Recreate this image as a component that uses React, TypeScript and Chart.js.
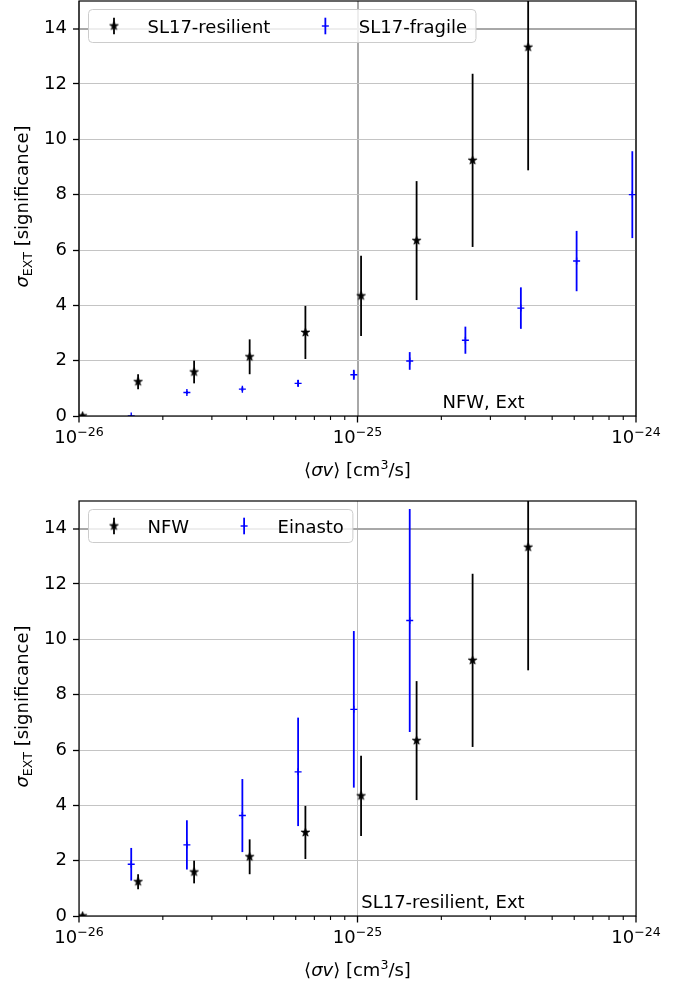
import React, { useEffect, useRef } from 'react';
import { Chart, registerables } from 'chart.js';

Chart.register(...registerables);

// ---------------- data ----------------
const resilientX = [1.03e-26, 1.63e-26, 2.59e-26, 4.1e-26, 6.5e-26, 1.03e-25, 1.63e-25, 2.59e-25, 4.1e-25];
const resilientY = [0, 1.24, 1.59, 2.14, 3.02, 4.34, 6.34, 9.24, 13.33];
const resilientErr = [0, 0.27, 0.41, 0.63, 0.96, 1.45, 2.15, 3.13, 4.45];

const fragileX = [1.54e-26, 2.44e-26, 3.86e-26, 6.12e-26, 9.7e-26, 1.54e-25, 2.44e-25, 3.86e-25, 6.12e-25, 9.7e-25];
const fragileY = [0, 0.85, 0.97, 1.18, 1.49, 1.99, 2.74, 3.9, 5.6, 8.0];
const fragileErr = [0.03, 0.06, 0.07, 0.12, 0.18, 0.32, 0.49, 0.75, 1.09, 1.57];

const nfwX = [1.03e-26, 1.63e-26, 2.59e-26, 4.1e-26, 6.5e-26, 1.03e-25, 1.63e-25, 2.59e-25, 4.1e-25];
const nfwY = [0, 1.24, 1.59, 2.14, 3.02, 4.34, 6.34, 9.24, 13.33];
const nfwErr = [0, 0.27, 0.41, 0.63, 0.96, 1.45, 2.15, 3.13, 4.45];

const einastoX = [1.54e-26, 2.44e-26, 3.86e-26, 6.12e-26, 9.7e-26, 1.54e-25];
const einastoY = [1.87, 2.57, 3.63, 5.21, 7.47, 10.68];
const einastoErr = [0.59, 0.89, 1.32, 1.96, 2.83, 4.03];

const yTicks = [0, 2, 4, 6, 8, 10, 12, 14];
const xMajorTicks = [1e-26, 1e-25, 1e-24];
const xTickExponents = ['\u221226', '\u221225', '\u221224'];
const xMinorTicks = [
  2e-26, 3e-26, 4e-26, 5e-26, 6e-26, 7e-26, 8e-26, 9e-26,
  2e-25, 3e-25, 4e-25, 5e-25, 6e-25, 7e-25, 8e-25, 9e-25,
];

const FONT = '"DejaVu Sans", sans-serif';
const F_N = `18px ${FONT}`;
const F_I = `italic 18px ${FONT}`;
const F_S = `12.6px ${FONT}`;

type Series = { label: string; x: number[]; y: number[]; err: number[]; color: string; marker: 'star' | 'plus' };
type PanelCfg = { series: Series[]; note: string; vColor: string; vWidth: number };

const panels: PanelCfg[] = [
  {
    series: [
      { label: 'SL17-resilient', x: resilientX, y: resilientY, err: resilientErr, color: '#000000', marker: 'star' },
      { label: 'SL17-fragile', x: fragileX, y: fragileY, err: fragileErr, color: '#0000ff', marker: 'plus' },
    ],
    note: 'NFW, Ext',
    vColor: '#a8a8a8',
    vWidth: 2,
  },
  {
    series: [
      { label: 'NFW', x: nfwX, y: nfwY, err: nfwErr, color: '#000000', marker: 'star' },
      { label: 'Einasto', x: einastoX, y: einastoY, err: einastoErr, color: '#0000ff', marker: 'plus' },
    ],
    note: 'SL17-resilient, Ext',
    vColor: '#c0c0c0',
    vWidth: 1,
  },
];

function makeStar(color: string, R: number) {
  const c = document.createElement('canvas');
  const s = Math.ceil(2 * R + 2);
  c.width = s;
  c.height = s;
  const g = c.getContext('2d')!;
  g.translate(s / 2, s / 2);
  g.beginPath();
  for (let i = 0; i < 10; i++) {
    const r = i % 2 === 0 ? R : R * 0.382;
    const a = -Math.PI / 2 + (i * Math.PI) / 5;
    if (i === 0) g.moveTo(r * Math.cos(a), r * Math.sin(a));
    else g.lineTo(r * Math.cos(a), r * Math.sin(a));
  }
  g.closePath();
  g.fillStyle = color;
  g.fill();
  g.strokeStyle = color;
  g.lineWidth = 0.8;
  g.stroke();
  return c;
}

type Run = { text: string; font: string; dy?: number };
function drawRuns(ctx: CanvasRenderingContext2D, runs: Run[], x: number, y: number, align: 'left' | 'center' | 'right') {
  let total = 0;
  const widths = runs.map((r) => {
    ctx.font = r.font;
    const w = ctx.measureText(r.text).width;
    total += w;
    return w;
  });
  let cx = align === 'center' ? x - total / 2 : align === 'right' ? x - total : x;
  ctx.textAlign = 'left';
  ctx.textBaseline = 'alphabetic';
  runs.forEach((r, i) => {
    ctx.font = r.font;
    ctx.fillText(r.text, cx, y + (r.dy || 0));
    cx += widths[i];
  });
}

function Panel({ cfg, top }: { cfg: PanelCfg; top: number }) {
  const ref = useRef<HTMLCanvasElement | null>(null);

  useEffect(() => {
    if (!ref.current) return;
    const star = makeStar('#000000', 4.5);

    const errorBars = {
      id: 'errorBars',
      beforeDatasetsDraw(chart: any) {
        const { ctx, chartArea: a } = chart;
        const xs = chart.scales.x;
        const ys = chart.scales.y;
        ctx.save();
        ctx.beginPath();
        ctx.rect(a.left, a.top, a.right - a.left, a.bottom - a.top);
        ctx.clip();
        cfg.series.forEach((s) => {
          ctx.strokeStyle = s.color;
          ctx.lineWidth = 1.8;
          s.x.forEach((xv, i) => {
            if (!s.err[i]) return;
            const px = xs.getPixelForValue(xv);
            const y1 = ys.getPixelForValue(s.y[i] - s.err[i]);
            const y2 = ys.getPixelForValue(s.y[i] + s.err[i]);
            ctx.beginPath();
            ctx.moveTo(px, y1);
            ctx.lineTo(px, y2);
            ctx.stroke();
          });
        });
        ctx.restore();
      },
    };

    const decor = {
      id: 'decor',
      afterDraw(chart: any) {
        const { ctx, chartArea: a } = chart;
        const xs = chart.scales.x;
        ctx.save();
        ctx.fillStyle = '#000';
        ctx.strokeStyle = '#000';

        // x tick marks
        ctx.lineWidth = 1.3;
        xMajorTicks.forEach((v) => {
          const px = xs.getPixelForValue(v);
          ctx.beginPath();
          ctx.moveTo(px, a.bottom);
          ctx.lineTo(px, a.bottom + 6.5);
          ctx.stroke();
        });
        ctx.lineWidth = 1.1;
        xMinorTicks.forEach((v) => {
          const px = xs.getPixelForValue(v);
          ctx.beginPath();
          ctx.moveTo(px, a.bottom);
          ctx.lineTo(px, a.bottom + 4);
          ctx.stroke();
        });

        // spines
        ctx.lineWidth = 1.2;
        ctx.strokeRect(a.left, a.top, a.right - a.left, a.bottom - a.top);

        // x tick labels
        xMajorTicks.forEach((v, i) => {
          const px = xs.getPixelForValue(v);
          drawRuns(ctx, [
            { text: '10', font: F_N },
            { text: xTickExponents[i], font: F_S, dy: -7 },
          ], px, a.bottom + 27, 'center');
        });

        // x title
        drawRuns(ctx, [
          { text: '\u27E8', font: F_N },
          { text: '\u03C3v', font: F_I },
          { text: '\u27E9 [cm', font: F_N },
          { text: '3', font: F_S, dy: -7 },
          { text: '/s]', font: F_N },
        ], (a.left + a.right) / 2, a.bottom + 60, 'center');

        // annotation
        drawRuns(ctx, [{ text: cfg.note, font: F_N }], a.left + 0.8 * (a.right - a.left), a.bottom - 8, 'right');

        // legend
        const boxL = a.left + 9.5;
        const boxT = a.top + 8.5;
        const boxH = 33;
        const cy = boxT + 16.5;
        ctx.font = F_N;
        let hx = boxL + 25.5;
        const items: { hx: number; tx: number; s: Series }[] = [];
        let endX = hx;
        cfg.series.forEach((s) => {
          const tx = hx + 33.5;
          const tw = ctx.measureText(s.label).width;
          items.push({ hx, tx, s });
          endX = tx + tw;
          hx = tx + tw + 55;
        });
        const boxR = endX + 9;
        const r = 4;
        ctx.beginPath();
        ctx.moveTo(boxL + r, boxT);
        ctx.lineTo(boxR - r, boxT);
        ctx.arcTo(boxR, boxT, boxR, boxT + r, r);
        ctx.lineTo(boxR, boxT + boxH - r);
        ctx.arcTo(boxR, boxT + boxH, boxR - r, boxT + boxH, r);
        ctx.lineTo(boxL + r, boxT + boxH);
        ctx.arcTo(boxL, boxT + boxH, boxL, boxT + boxH - r, r);
        ctx.lineTo(boxL, boxT + r);
        ctx.arcTo(boxL, boxT, boxL + r, boxT, r);
        ctx.closePath();
        ctx.fillStyle = 'rgba(255,255,255,0.8)';
        ctx.fill();
        ctx.strokeStyle = '#cccccc';
        ctx.lineWidth = 1;
        ctx.stroke();

        items.forEach(({ hx: gx, tx, s }) => {
          ctx.strokeStyle = s.color;
          ctx.lineWidth = 1.8;
          ctx.beginPath();
          ctx.moveTo(gx, cy - 8.3);
          ctx.lineTo(gx, cy + 8.3);
          ctx.stroke();
          if (s.marker === 'star') {
            ctx.drawImage(star, gx - star.width / 2, cy - star.height / 2);
          } else {
            ctx.lineWidth = 1.4;
            ctx.beginPath();
            ctx.moveTo(gx - 3.5, cy);
            ctx.lineTo(gx + 3.5, cy);
            ctx.stroke();
          }
          ctx.fillStyle = '#000';
          drawRuns(ctx, [{ text: s.label, font: F_N }], tx, cy + 6.5, 'left');
        });

        // y title
        ctx.fillStyle = '#000';
        ctx.translate(28, (a.top + a.bottom) / 2 - 2);
        ctx.rotate(-Math.PI / 2);
        drawRuns(ctx, [
          { text: '\u03C3', font: F_I },
          { text: 'EXT', font: F_S, dy: 3.5 },
          { text: ' [significance]', font: F_N },
        ], 0, 0, 'center');
        ctx.restore();
      },
    };

    const datasets = cfg.series.map((s) => ({
      type: 'scatter' as const,
      label: s.label,
      data: s.x.map((xv, i) => ({ x: xv, y: s.y[i] })),
      pointStyle: s.marker === 'star' ? (star as any) : 'cross',
      pointRadius: s.marker === 'star' ? 4.5 : 3.5,
      pointHoverRadius: s.marker === 'star' ? 4.5 : 3.5,
      borderColor: s.color,
      backgroundColor: s.color,
      borderWidth: 1.4,
      showLine: false,
      clip: 0,
    }));

    const chart = new Chart(ref.current, {
      type: 'scatter',
      data: { datasets },
      plugins: [errorBars, decor],
      options: {
        animation: false,
        responsive: false,
        devicePixelRatio: 1,
        events: [],
        layout: { autoPadding: false, padding: { top: 1, left: 0, right: 52, bottom: 0 } },
        plugins: {
          legend: { display: false },
          tooltip: { enabled: false },
          title: { display: false },
        },
        scales: {
          x: {
            type: 'logarithmic',
            min: 1e-26,
            max: 1e-24,
            afterBuildTicks: (s: any) => {
              s.ticks = xMajorTicks.map((v) => ({ value: v, major: true }));
            },
            afterFit: (s: any) => {
              s.height = 84;
              s.paddingLeft = 0;
              s.paddingRight = 0;
            },
            ticks: { display: false },
            grid: { drawTicks: false, color: cfg.vColor, lineWidth: cfg.vWidth },
            border: { display: false },
          },
          y: {
            type: 'linear',
            min: 0,
            max: 15,
            afterBuildTicks: (s: any) => {
              s.ticks = yTicks.map((v) => ({ value: v }));
            },
            afterFit: (s: any) => {
              s.width = 79;
              s.paddingTop = 0;
              s.paddingBottom = 0;
            },
            ticks: { font: { family: 'DejaVu Sans', size: 18 }, color: '#000', padding: 6 },
            grid: {
              color: (c: any) => (c.tick && c.tick.value === 14 ? '#a8a8a8' : '#c4c4c4'),
              lineWidth: (c: any) => (c.tick && c.tick.value === 14 ? 2 : 1),
              drawTicks: true,
              tickLength: 6,
              tickColor: '#000',
              tickWidth: 1.3,
            },
            border: { display: false },
          },
        },
      } as any,
    });
    return () => chart.destroy();
  }, [cfg]);

  return (
    <canvas
      ref={ref}
      width={688}
      height={500}
      style={{ position: 'absolute', left: 0, top, width: 688, height: 500, display: 'block' }}
    />
  );
}

export default function App() {
  return (
    <div style={{ position: 'absolute', left: 0, top: 0, width: 688, height: 981, overflow: 'hidden', background: '#ffffff' }}>
      <Panel cfg={panels[0]} top={0} />
      <Panel cfg={panels[1]} top={500} />
    </div>
  );
}
